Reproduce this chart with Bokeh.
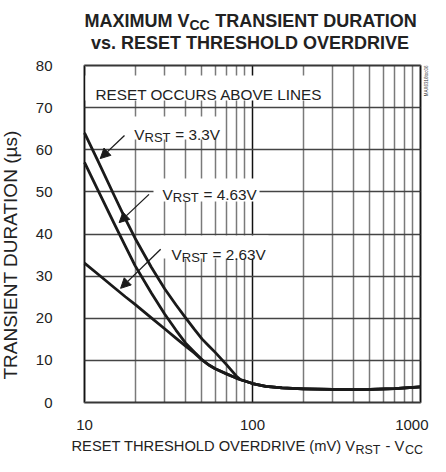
from math import pi
from bokeh.plotting import figure
from bokeh.models import Label, Arrow, NormalHead, FixedTicker, BoxAnnotation, Range1d
from bokeh.embed import file_html
from bokeh.resources import INLINE

FONT = "Liberation Sans"
INK = "#1a1a1a"
TXT = "#222222"

# ---- data ----
x_ticks = [10, 100, 1000]
x_tick_labels = ["10", "100", "1000"]
x_minor_ticks = [20, 30, 40, 50, 60, 70, 80, 90, 200, 300, 400, 500, 600, 700, 800, 900]
y_ticks = [0, 10, 20, 30, 40, 50, 60, 70, 80]

overdrive_mv = [10, 12, 15, 17.5, 20, 25, 30, 35, 40, 45, 50, 55, 60, 70, 80, 85, 90, 100, 120, 150, 200, 300, 400, 500, 700, 1000]
dur_vrst_3v3 = [64, 57.4, 49.2, 43.6, 39, 32.1, 27.0, 23.2, 20.1, 17.4, 15.1, 13.4, 11.9, 9.0, 6.3, 5.4, 5.1, 4.5, 3.85, 3.45, 3.25, 3.1, 3.08, 3.1, 3.3, 3.7]
dur_vrst_4v63 = [57, 50.5, 42.5, 37.1, 32.5, 26, 21, 17.2, 14.1, 12.0, 10.2, 8.9, 8.0, 6.8, 5.8, 5.4, 5.1, 4.5, 3.85, 3.45, 3.25, 3.1, 3.08, 3.1, 3.3, 3.7]
dur_vrst_2v63 = [33.1, 30.5, 27.3, 25.1, 23.3, 20.1, 17.5, 15.3, 13.4, 11.75, 10.1, 8.9, 8.0, 6.8, 5.8, 5.4, 5.1, 4.5, 3.85, 3.45, 3.25, 3.1, 3.08, 3.1, 3.3, 3.7]
series_names = ["3.3V", "4.63V", "2.63V"]

# ---- layout (canvas pixels) ----
W, H = 430, 456
BOX_L, BOX_R, BOX_T, BOX_B = 84, 420, 65, 402      # plot box inside the canvas
xmin, xmax = x_ticks[0], x_ticks[-1]
ymin, ymax = y_ticks[0], y_ticks[-1]
px_per_dec = (BOX_R - BOX_L) / 2.0
px_per_unit = (BOX_B - BOX_T) / (ymax - ymin)

p = figure(width=W, height=H, x_axis_type="log",
           x_range=Range1d(10 ** (1 - BOX_L / px_per_dec), 10 ** (3 + (W - BOX_R) / px_per_dec)),
           y_range=Range1d(ymin - (H - BOX_B) / px_per_unit, ymax + BOX_T / px_per_unit),
           output_backend="svg", toolbar_location=None, title=None,
           min_border=0, min_border_left=0, min_border_right=0, min_border_top=0, min_border_bottom=0)
p.background_fill_color = "white"
p.border_fill_color = "white"
p.outline_line_color = None

# axes pinned to the plot box
p.xaxis.fixed_location = ymin
p.yaxis.fixed_location = xmin
p.xaxis.bounds = (xmin, xmax)
p.yaxis.bounds = (ymin, ymax)
p.xaxis.ticker = FixedTicker(ticks=x_ticks, minor_ticks=x_minor_ticks)
p.yaxis.ticker = FixedTicker(ticks=y_ticks)
p.xaxis.major_label_overrides = {t: (lbl if t != xmax else "") for t, lbl in zip(x_ticks, x_tick_labels)}
for ax in (p.xaxis[0], p.yaxis[0]):
    ax.axis_line_color = None
    ax.major_tick_line_color = None
    ax.minor_tick_line_color = None
    ax.major_tick_out = 0
    ax.major_tick_in = 0
    ax.minor_tick_out = 0
    ax.minor_tick_in = 0
    ax.major_label_text_font = FONT
    ax.major_label_text_color = TXT
    ax.major_label_text_font_size = "15px"
p.xaxis.major_label_standoff = 17
p.yaxis.major_label_standoff = 32

# grid
p.ygrid.ticker = FixedTicker(ticks=y_ticks)
p.xgrid.grid_line_color = "#111111"
p.xgrid.grid_line_width = 1.5
p.xgrid.minor_grid_line_color = "#7a7a7a"
p.xgrid.minor_grid_line_width = 1.5
p.ygrid.grid_line_color = "#444444"
p.ygrid.grid_line_width = 1.5
try:
    p.xgrid.cross_bounds = (ymin, ymax)
    p.ygrid.cross_bounds = (xmin, xmax)
except Exception:
    p.xgrid.visible = False
    p.ygrid.visible = False
    p.segment(x0=x_minor_ticks, y0=ymin, x1=x_minor_ticks, y1=ymax, line_color="#7a7a7a", line_width=1.5)
    p.segment(x0=x_ticks, y0=ymin, x1=x_ticks, y1=ymax, line_color="#111111", line_width=1.5)
    p.segment(x0=xmin, y0=y_ticks, x1=xmax, y1=y_ticks, line_color="#444444", line_width=1.5)

# plot box
p.add_layout(BoxAnnotation(left=xmin, right=xmax, bottom=ymin, top=ymax, fill_alpha=0,
                           fill_color=None, line_color=INK, line_width=3, level="underlay"))

for ys in (dur_vrst_3v3, dur_vrst_4v63, dur_vrst_2v63):
    p.line(overdrive_mv, ys, line_width=2.8, line_color=INK, line_join="round")


def sx(ix):
    return ix - 8


def sy(iy):
    return H + 8 - iy


def whitebox(l, r, t, b):
    p.add_layout(BoxAnnotation(left=sx(l), right=sx(r), top=sy(t), bottom=sy(b),
                               left_units="screen", right_units="screen",
                               top_units="screen", bottom_units="screen",
                               fill_color="white", fill_alpha=1, line_color=None))


def lab(text, ix, iy, size, bold=False, align="left", baseline="alphabetic", angle=0.0, color=TXT):
    p.add_layout(Label(x=sx(ix), y=sy(iy), x_units="screen", y_units="screen", text=text,
                       text_font=FONT, text_font_size=f"{size}px",
                       text_font_style="bold" if bold else "normal",
                       text_align=align, text_baseline=baseline, angle=angle, text_color=color))


# white boxes behind the notes (hide the grid)
whitebox(93, 337, 83, 108)
whitebox(138, 231, 124, 147)
whitebox(161, 267, 186, 209)
whitebox(168, 276, 243, 266)

# arrows
head = dict(size=10, fill_color=INK, line_color=INK, line_width=1)
for (xs, ys, xe, ye) in [(17.3, 63.4, 12.4, 57.9), (24.2, 49.4, 16.07, 42.7), (28.4, 36.4, 16.4, 27.1)]:
    p.add_layout(Arrow(end=NormalHead(**head), x_start=xs, y_start=ys, x_end=xe, y_end=ye,
                       line_color=INK, line_width=1.3))

# title
lab("MAXIMUM V", 197, 28.3, 18, bold=True, align="right")
lab("CC", 197, 32, 14, bold=True)
lab("TRANSIENT DURATION", 222.7, 28.3, 18, bold=True)
lab("vs. RESET THRESHOLD OVERDRIVE", 257.5, 50.7, 18, bold=True, align="center")

# axis titles
lab("TRANSIENT DURATION (µs)", 17.5, 262.5, 19, angle=pi / 2, align="center", baseline="middle")
lab("RESET THRESHOLD OVERDRIVE (mV) V", 363, 453.5, 14.7, align="right")
lab("RST", 363, 457, 12.5)
lab("- V", 393, 453.5, 14.7)
lab("CC", 412.5, 457, 12.5)
lab(x_tick_labels[-1], 436, 427, 15, align="right", baseline="top")

# code at right
lab("MAX6316toc06", 434, 73, 4.5, align="right", baseline="middle", angle=pi / 2, color="#333333")

# in-plot notes
lab("RESET OCCURS ABOVE LINES", 103, 101.5, 15.3)


def vrst(ix, iy, name):
    lab("V", ix, iy, 15.3)
    lab("RST", ix + 10.3, iy + 3.3, 13)
    lab("= " + name, ix + 41, iy, 15.3)


vrst(141.7, 141.7, series_names[0])
vrst(170, 202, series_names[1])
vrst(179, 262, series_names[2])

open("out.html", "w").write(file_html(p, INLINE))
